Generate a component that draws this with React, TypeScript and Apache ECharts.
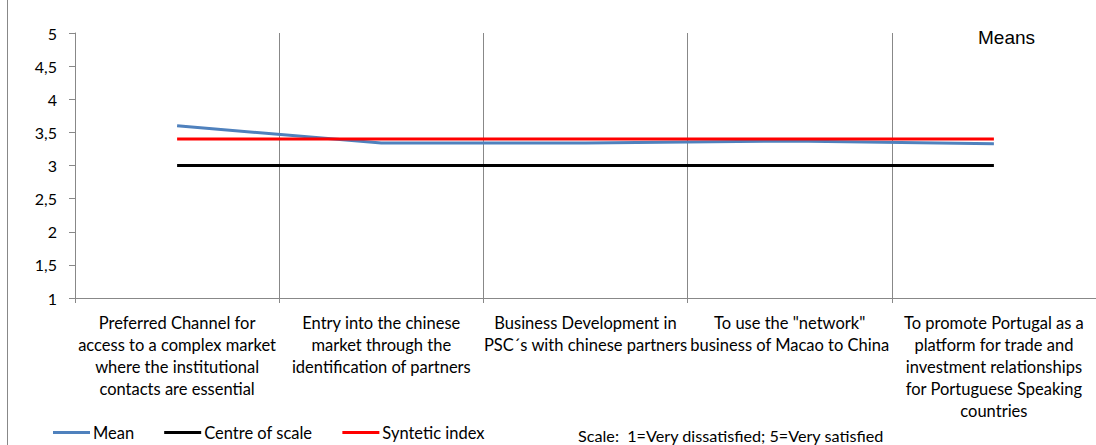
import React, { useEffect, useRef } from "react";
import * as echarts from "echarts";

const categories = [
  "Preferred Channel for\naccess to a complex market\nwhere the institutional\ncontacts are essential",
  "Entry into the chinese\nmarket through the\nidentification of partners",
  "Business Development in\nPSC´s with chinese partners",
  "To use the \"network\"\nbusiness of Macao to China",
  "To promote Portugal as a\nplatform for trade and\ninvestment relationships\nfor Portuguese Speaking\ncountries",
];
const meanValues = [3.6, 3.34, 3.34, 3.37, 3.33];
const centreValues = [3, 3, 3, 3, 3];
const synteticValues = [3.4, 3.4, 3.4, 3.4, 3.4];
const seriesNames = ["Mean", "Centre of scale", "Syntetic index"];
const yTicks = { min: 1, max: 5, interval: 0.5 };

const FONT = "Lato";

export default function App() {
  const ref = useRef<HTMLDivElement>(null);
  useEffect(() => {
    if (!ref.current) return;
    const chart = echarts.init(ref.current, null, { renderer: "svg" });
    const colors = ["#4F81BD", "#000000", "#FF0000"];
    const values = [meanValues, centreValues, synteticValues];
    chart.setOption({
      animation: false,
      backgroundColor: "#ffffff",
      textStyle: { fontFamily: FONT },
      grid: { left: 75, right: -3, top: 33, bottom: 147 },
      legend: {
        left: 48,
        top: 419,
        itemWidth: 37,
        itemHeight: 3,
        itemGap: 30,
        icon: "rect",
        textStyle: { fontSize: 16.5, color: "#000", fontFamily: FONT, padding: [0, 0, 0, -2] },
        data: seriesNames,
      },
      graphic: [
        {
          type: "line",
          shape: { x1: 7.5, y1: 0, x2: 7.5, y2: 445 },
          style: { stroke: "#888", lineWidth: 1 },
        },
        {
          type: "text",
          left: 978,
          top: 28,
          style: { text: "Means", fontSize: 19, fill: "#000", fontFamily: "Liberation Sans" },
        },
        {
          type: "text",
          left: 578,
          top: 427,
          style: {
            text: "Scale:  1=Very dissatisfied; 5=Very satisfied",
            fontSize: 16.2,
            fill: "#000",
            fontFamily: FONT,
          },
        },
      ],
      xAxis: {
        type: "category",
        data: categories,
        boundaryGap: true,
        axisLine: { lineStyle: { color: "#888", width: 1 } },
        axisTick: { show: true, length: 5, lineStyle: { color: "#888" } },
        splitLine: { show: true, lineStyle: { color: "#888", width: 1 } },
        axisLabel: {
          interval: 0,
          margin: 14,
          fontSize: 16.5,
          lineHeight: 22,
          color: "#000",
          fontFamily: FONT,
          align: "center",
        },
      },
      yAxis: {
        type: "value",
        min: yTicks.min,
        max: yTicks.max,
        interval: yTicks.interval,
        axisLine: { show: true, lineStyle: { color: "#888", width: 1 } },
        axisTick: { show: true, length: 6, lineStyle: { color: "#888" } },
        splitLine: { show: false },
        axisLabel: {
          margin: 18,
          fontSize: 16,
          color: "#000",
          fontFamily: FONT,
          formatter: (v: number) => String(v).replace(".", ","),
        },
      },
      series: seriesNames.map((name, i) => ({
        name,
        type: "line",
        data: values[i],
        showSymbol: false,
        symbol: "none",
        color: colors[i],
        lineStyle: { color: colors[i], width: 3 },
        z: 2 + i,
      })),
    });
    return () => chart.dispose();
  }, []);
  return (
    <div
      ref={ref}
      style={{ position: "fixed", left: 0, top: 0, width: 1096, height: 445 }}
    />
  );
}
